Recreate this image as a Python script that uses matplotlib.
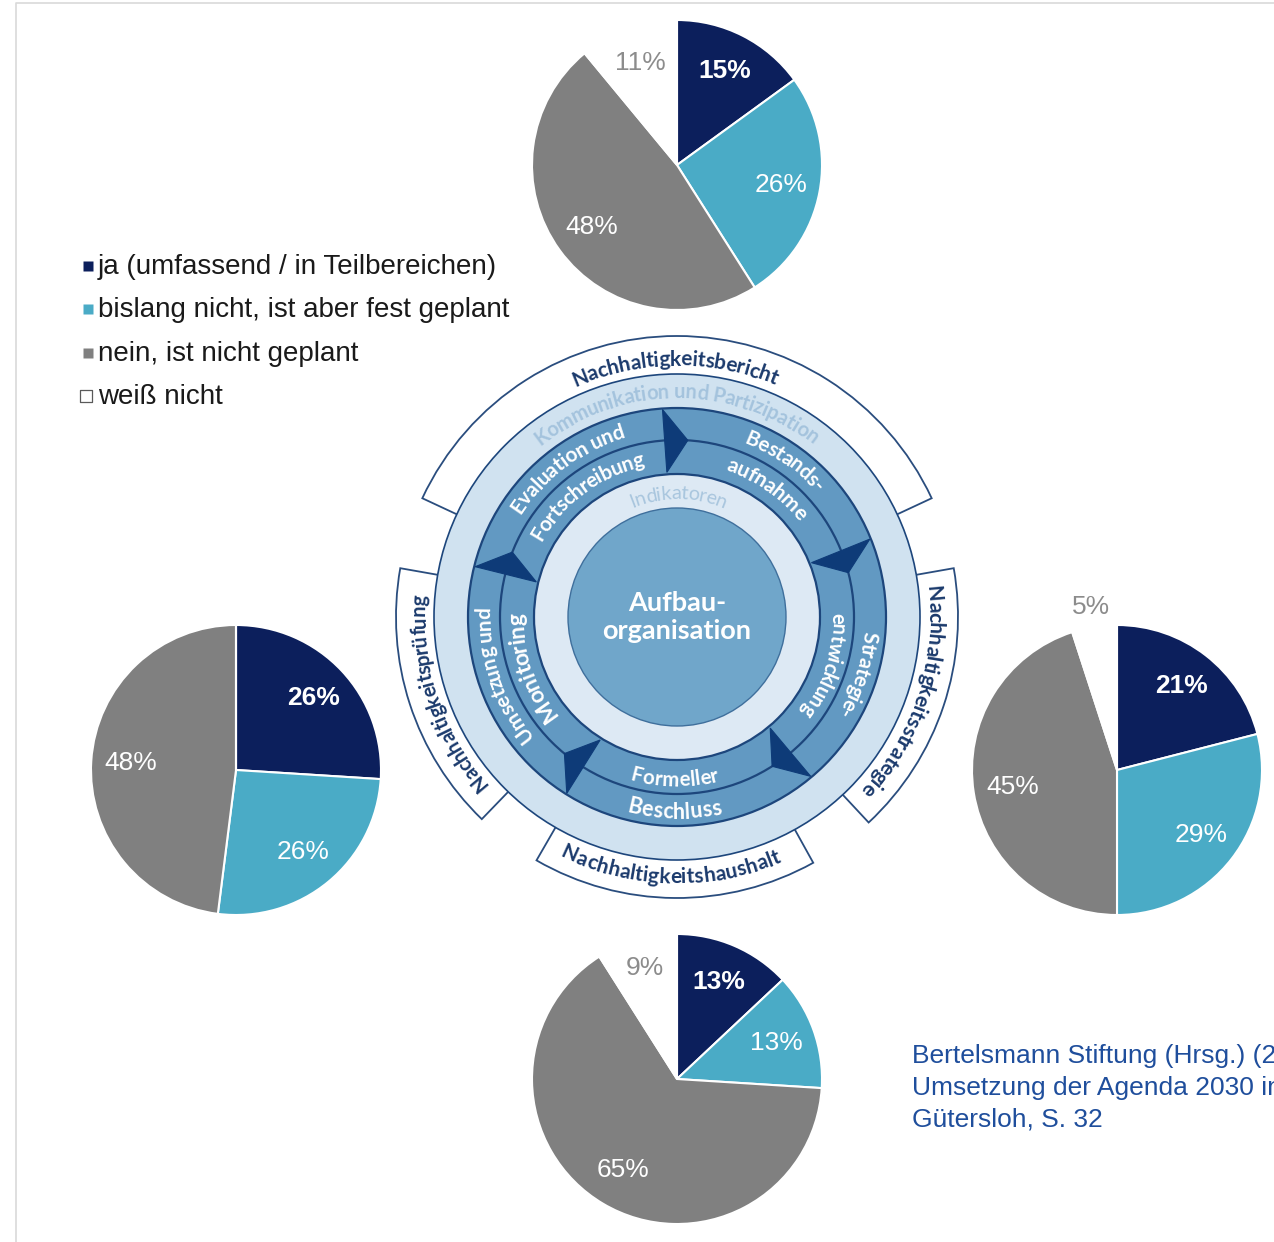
import numpy as np
import matplotlib.pyplot as plt
from matplotlib.patches import Circle, Wedge, Polygon
from matplotlib.font_manager import FontProperties, findfont, get_font

W, H = 1274, 1242
DPI = 100

# Survey shares in percent, one pie per instrument
categories = ['ja (umfassend / in Teilbereichen)',
              'bislang nicht, ist aber fest geplant',
              'nein, ist nicht geplant',
              'weiß nicht']
instruments = ['Nachhaltigkeitsbericht', 'Nachhaltigkeitsprüfung',
               'Nachhaltigkeitsstrategie', 'Nachhaltigkeitshaushalt']
ja = [15, 26, 21, 13]
geplant = [26, 26, 29, 13]
nein = [48, 48, 45, 65]
weiss_nicht = [11, 0, 5, 9]

# cycle in the middle of the picture
stages = [('Evaluation und', 'Fortschreibung'),
          ('Bestands-', 'aufnahme'),
          ('Strategie-', 'entwicklung'),
          ('Formeller', 'Beschluss'),
          ('Umsetzung und', 'Monitoring')]
ring_outer = 'Kommunikation und Partizipation'
ring_inner = 'Indikatoren'
core = 'Aufbau-\norganisation'

source = ['Bertelsmann Stiftung (Hrsg.) (2020):',
          'Umsetzung der Agenda 2030 in',
          'Gütersloh, S. 32']

# colours
pie_colors = ['#0c1f5c', '#4aabc6', '#808080', 'white']
navy = '#1d467c'
arrow_col = '#0e3b78'

# layout (pixel positions, y measured from the top)
pie_centers = [(677, 165), (236, 770), (1117, 770), (677, 1079)]
R_PIE = 145
dk_dist = [0.75, 0.75, 1.14, 0.8]   # where the "weiss nicht" label sits
CX, CY = 677, H - 617
bracket_span = [(25, 155), (170, 226), (-47, 10), (240, 299)]
bracket_text = [(90, 44), (198, 43.7), (-18.4, 47.3), (269, 46.7)]
stage_pos = [126.5, 55, -18, 269.5, 198]
stage_span = [(37.4, 45), (24, 29.3), (24, 35), (27.5, 24.3), (38.6, 34.6)]


def advances(s, fp):
    font = get_font(findfont(fp))
    font.set_size(fp.get_size_in_points(), 72)
    adv = [font.load_char(ord(c)).linearHoriAdvance / 65536 for c in s]
    return np.array(adv) * DPI / 72.0


def arc_text(ax, s, rc, center, span, cw=True, color='white', weight='bold', zorder=6):
    fp = FontProperties(family='Lato', weight=weight, size=10)
    adv = advances(s, fp)
    mids = np.cumsum(adv) - adv / 2
    size = 10 * np.deg2rad(span) * rc / (mids[-1] - mids[0])
    mids = mids * size / 10
    ref = (mids[0] + mids[-1]) / 2
    fp = FontProperties(family='Lato', weight=weight, size=size)
    em = size * DPI / 72.0
    rb = rc - 0.36 * em if cw else rc + 0.36 * em
    for ch, m in zip(s, mids):
        off = np.rad2deg((m - ref) / rc)
        phi = center - off if cw else center + off
        rot = phi - 90 if cw else phi + 90
        t = np.deg2rad(phi)
        ax.text(CX + rb * np.cos(t), CY + rb * np.sin(t), ch, rotation=rot,
                rotation_mode='anchor', ha='center', va='baseline',
                fontproperties=fp, color=color, zorder=zorder)


fig = plt.figure(figsize=(W / DPI, H / DPI), dpi=DPI)
ax = fig.add_axes([0, 0, 1, 1])

# pies
for i, (px, py) in enumerate(pie_centers):
    vals = [ja[i], geplant[i], nein[i], weiss_nicht[i]]
    wedges, _ = ax.pie(vals, colors=pie_colors, startangle=90, counterclock=False,
                       radius=R_PIE, center=(px, H - py), frame=True,
                       wedgeprops=dict(edgecolor='white', linewidth=1.5))
    for k, (w, v) in enumerate(zip(wedges, vals)):
        if v == 0:
            continue
        mid = np.deg2rad((w.theta1 + w.theta2) / 2)
        d = dk_dist[i] if k == 3 else 0.73
        ax.text(px + d * R_PIE * np.cos(mid), H - py + d * R_PIE * np.sin(mid), f'{v}%',
                ha='center', va='center', fontsize=19, family='Liberation Sans',
                fontweight='bold' if k == 0 else 'normal',
                color='#8c8c8c' if k == 3 else 'white', zorder=4)

# brackets behind the circle
for (a1, a2), name, (c, sp) in zip(bracket_span, instruments, bracket_text):
    ax.add_patch(Wedge((CX, CY), 281, a1, a2, width=45, facecolor='white',
                       edgecolor='#2a4d7e', linewidth=1.3, zorder=2))
    arc_text(ax, name, 259, c, sp, cw=not (200 < c < 340), color='#1b3a6c')

# rings
ax.add_patch(Circle((CX, CY), 243, facecolor='#d0e2f0', edgecolor=navy, linewidth=1.2, zorder=3))
ax.add_patch(Circle((CX, CY), 209, facecolor='#6299c2', edgecolor=navy, linewidth=1.6, zorder=3))
ax.add_patch(Circle((CX, CY), 177, facecolor='none', edgecolor=navy, linewidth=1.6, zorder=3))
ax.add_patch(Circle((CX, CY), 143, facecolor='#dde9f4', edgecolor=navy, linewidth=1.6, zorder=3))
ax.add_patch(Circle((CX, CY), 109, facecolor='#70a6ca', edgecolor='#3f6f9c', linewidth=1.0, zorder=3))

# arrows between stages
for k in range(5):
    b = 94 - 72 * k
    pts = [(145, b), (177, b - 7.5), (208, b)]
    xy = [(CX + r * np.cos(np.deg2rad(a)), CY + r * np.sin(np.deg2rad(a))) for r, a in pts]
    ax.add_patch(Polygon(xy, closed=True, facecolor=arrow_col, edgecolor=arrow_col,
                         linewidth=0.8, zorder=4))

# texts of the wheel
arc_text(ax, ring_outer, 226, 90, 73.5, color='#a4c3dd')
arc_text(ax, ring_inner, 125, 90, 42, color='#a9c6de', weight='normal')
for (l1, l2), c, (s1, s2) in zip(stages, stage_pos, stage_span):
    cw = not (200 < c < 340)
    arc_text(ax, l1, 194 if cw else 162, c, s1, cw=cw)
    arc_text(ax, l2, 162 if cw else 194, c, s2, cw=cw)
ax.text(CX, CY, core, ha='center', va='center', fontsize=19.5, family='Lato',
        fontweight='bold', color='white', linespacing=1.2, zorder=6)

# legend
leg_base = [274, 317, 361, 404]
ax.scatter([88, 88, 88, 86], [H - (b - 8) for b in leg_base], marker='s',
           s=[55, 55, 55, 66], c=pie_colors, edgecolors=['none', 'none', 'none', '#5a5a5a'],
           linewidths=0.9, zorder=5)
for lab, b in zip(categories, leg_base):
    ax.text(98, H - b, lab, ha='left', va='baseline', fontsize=20,
            family='Liberation Sans', color='#1a1a1a')

# source note
for line, b in zip(source, [1063, 1095, 1127]):
    ax.text(912, H - b, line, ha='left', va='baseline', fontsize=19,
            family='Liberation Sans', color='#1f4e9c')

# thin frame
ax.plot([16, 16, W], [0, H - 2.5, H - 2.5], color='#d9d9d9', linewidth=1.2)

ax.set_xlim(0, W)
ax.set_ylim(0, H)
ax.set_aspect('equal')
ax.axis('off')
fig.savefig('out.png', dpi=DPI)
